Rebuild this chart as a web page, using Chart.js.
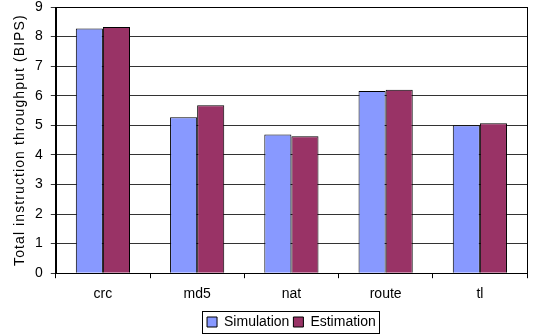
<!DOCTYPE html>
<html>
<head>
<meta charset="utf-8">
<script src="https://cdn.jsdelivr.net/npm/chart.js@4"></script>
<style>
  body { margin: 0; background: #fff; }
  #wrap { width: 533px; height: 335px; }
</style>
</head>
<body>
<div id="wrap"><canvas id="plot1" width="533" height="335"></canvas></div>
<script>
let categorias = ["crc", "md5", "nat", "route", "tl"];
let simulacion = [8.27, 5.27, 4.69, 6.16, 5.00];
let estimacion = [8.32, 5.68, 4.63, 6.20, 5.07];
let yTicks = [0, 1, 2, 3, 4, 5, 6, 7, 8, 9];
let tituloY = 'Total instruction throughput (BIPS)';

let fuente = "'Liberation Sans', Arial, sans-serif";

// centra la leyenda bajo el area de datos y dibuja las cajas
let bordes = {
    id: 'bordes',
    afterLayout: (chart) => {
        let lg = chart.legend;
        let a = chart.chartArea;
        let d = (a.left + a.right) / 2 - (lg.left + lg.right) / 2;
        lg.left += d;
        lg.right += d;
    },
    afterDraw: (chart) => {
        let ctx = chart.ctx;
        let a = chart.chartArea;
        ctx.save();
        ctx.strokeStyle = '#000';
        ctx.lineWidth = 1;
        ctx.strokeRect(Math.round(a.left) + 0.5, Math.round(a.top) + 0.5,
                       Math.round(a.right - a.left), Math.round(a.bottom - a.top));
        let lg = chart.legend;
        if (lg && lg.legendHitBoxes.length) {
            let h = lg.legendHitBoxes;
            let x0 = h[0].left - 5;
            let last = h[h.length - 1];
            let x1 = last.left + last.width + 3;
            let y0 = h[0].top - 4;
            let y1 = h[0].top + h[0].height + 4;
            ctx.strokeRect(Math.round(x0) + 0.5, Math.round(y0) + 0.5, Math.round(x1 - x0), Math.round(y1 - y0));
        }
        // titulo del eje y
        ctx.fillStyle = '#000';
        ctx.font = "14px " + fuente;
        ctx.letterSpacing = '1.1px';
        ctx.textAlign = 'center';
        ctx.textBaseline = 'middle';
        ctx.translate(20, (a.top + a.bottom) / 2);
        ctx.rotate(-Math.PI / 2);
        ctx.fillText(tituloY, 0, 0);
        ctx.restore();
    }
};

let config1 = {
    type: 'bar',
    data: {
        labels: categorias,
        datasets: [
            {
                label: 'Simulation',
                data: simulacion,
                backgroundColor: '#8899ff',
                borderColor: '#000',
                borderWidth: 1,
                borderSkipped: 'bottom'
            },
            {
                label: 'Estimation',
                data: estimacion,
                backgroundColor: '#993366',
                borderColor: '#000',
                borderWidth: 1,
                borderSkipped: 'bottom'
            }
        ]
    },
    options: {
        responsive: false,
        animation: false,
        devicePixelRatio: 1,
        layout: { padding: { top: 7, right: 6, left: 27, bottom: -4 } },
        datasets: { bar: { categoryPercentage: 0.575, barPercentage: 1.0 } },
        scales: {
            x: {
                grid: { display: true, drawOnChartArea: false, offset: true, color: '#000', tickLength: 5 },
                border: { color: '#000' },
                ticks: { color: '#000', font: { family: fuente, size: 14 }, padding: 8 }
            },
            y: {
                min: 0,
                max: 9,
                afterBuildTicks: (axis) => { axis.ticks = yTicks.map(v => ({ value: v })); },
                afterFit: (axis) => { axis.paddingTop = 0; },
                grid: { color: '#333', tickLength: 5 },
                border: { color: '#000' },
                ticks: { color: '#000', font: { family: fuente, size: 14 }, padding: 8 }
            }
        },
        plugins: {
            legend: {
                position: 'bottom',
                labels: {
                    color: '#000',
                    font: { family: fuente, size: 14 },
                    boxWidth: 10,
                    boxHeight: 10,
                    padding: 4
                }
            },
            tooltip: { enabled: false }
        }
    },
    plugins: [bordes]
};

let plotRef = document.getElementById("plot1");
let chart1 = new Chart(plotRef, config1);
</script>
</body>
</html>
